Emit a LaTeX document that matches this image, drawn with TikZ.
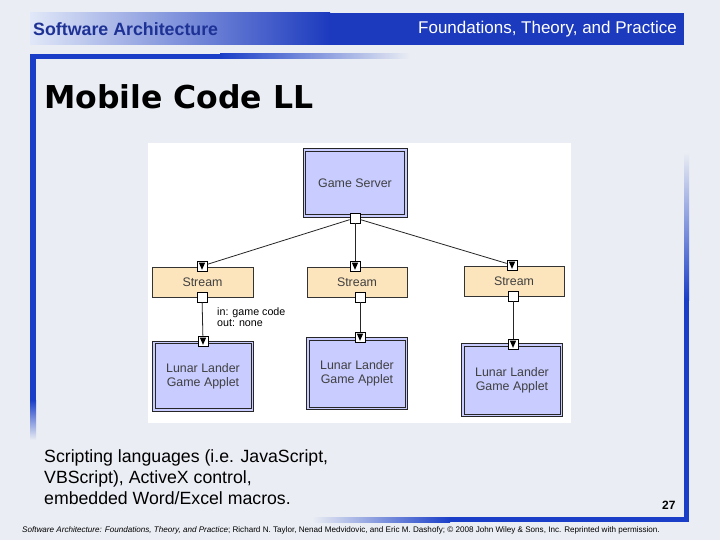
\documentclass[tikz,border=0pt]{standalone}
\usepackage{fontspec}
\setmainfont{Liberation Sans}
\newfontfamily\titlefont{DejaVu Sans}
\usepackage{tikz}
\usepackage{xcolor}
\usetikzlibrary{positioning, calc}

\definecolor{bgcol}{RGB}{234,237,243}
\definecolor{bardark}{RGB}{28,58,190}
\definecolor{barlight}{RGB}{225,232,248}
\definecolor{frameblue}{RGB}{26,62,200}
\definecolor{headblue}{RGB}{30,50,150}
\definecolor{compfill}{RGB}{200,204,255}
\definecolor{connfill}{RGB}{252,228,188}

\tikzset{
  comp/.style={rectangle, draw=black!85, line width=0.8pt, fill=compfill,
    align=center, font=\fontsize{12.4}{14}\selectfont, text=black!75,
    path picture={
      \draw[black!85, line width=0.8pt]
        ([xshift=2.6pt,yshift=-2.6pt]path picture bounding box.north west) rectangle
        ([xshift=-2.6pt,yshift=2.6pt]path picture bounding box.south east);}},
  conn/.style={rectangle, draw=black!80, line width=0.7pt, fill=connfill,
    minimum height=30pt, font=\fontsize{12.4}{14}\selectfont, text=black!75},
  port/.style={rectangle, draw=black, line width=0.7pt, fill=white,
    minimum size=10pt, inner sep=0pt},
  inport/.style={port, path picture={
    \fill[black] ([xshift=1.8pt,yshift=-1.6pt]path picture bounding box.north west)
      -- ([xshift=-1.8pt,yshift=-1.6pt]path picture bounding box.north east)
      -- ([yshift=1.2pt]path picture bounding box.south) -- cycle;}},
  link/.style={draw=black!85, line width=0.8pt}
}

\begin{document}
\begin{tikzpicture}[x=1pt, y=-1pt]

\useasboundingbox (0,0) rectangle (720,540);
\fill[bgcol] (0,0) rectangle (720,540);

% header bar
\shade[left color=barlight, right color=bardark] (30,13) rectangle (330,45);
\fill[bardark] (329,13) rectangle (684,45);
\node[anchor=west, inner sep=0pt, font=\bfseries\fontsize{17.8}{20}\selectfont, text=headblue] (hleft) at (33,29) {Software Architecture};
\node[anchor=east, inner sep=0pt, font=\fontsize{17}{20}\selectfont, text=white] (hright) at (677,29) {Foundations, Theory, and Practice};

% frame
\fill[frameblue] (30,54) rectangle (220,59);
\shade[left color=frameblue, right color=bgcol] (220,54) rectangle (410,59);
\fill[frameblue] (30,54) rectangle (36,400);
\shade[top color=frameblue, bottom color=bgcol] (30,400) rectangle (36,440);
\shade[top color=bgcol, bottom color=frameblue] (684,152) rectangle (689,300);
\fill[frameblue] (684,300) rectangle (689,522);
\shade[left color=bgcol, right color=frameblue] (312,517) rectangle (450,522);
\fill[frameblue] (450,517) rectangle (689,522);

\node[anchor=west, inner sep=0pt, font=\titlefont\bfseries\fontsize{31.5}{36}\selectfont] (title) at (44,97) {Mobile Code LL};

% diagram
\fill[white] (148,143) rectangle (571,423);

\node[comp, minimum width=104pt, minimum height=69pt] (server) at (355,183) {Game Server};

\node[conn, minimum width=101pt] (s1) at (202.5,282) {Stream};
\node[conn, minimum width=100pt] (s2) at (357,282) {Stream};
\node[conn, minimum width=100pt] (s3) at (514,281) {Stream};

\node[comp, minimum width=101pt, minimum height=70pt] (a1) at (203,376) {Lunar Lander\\Game Applet};
\node[comp, minimum width=101pt, minimum height=72pt] (a2) at (357,373.5) {Lunar Lander\\Game Applet};
\node[comp, minimum width=101pt, minimum height=73pt] (a3) at (512,380) {Lunar Lander\\Game Applet};

\node[port] (sp) at (355,218) {};
\node[inport] (s1in) at (202,266) {};
\node[inport] (s2in) at (355,266) {};
\node[inport] (s3in) at (512,265) {};
\node[port] (s1out) at (202,297) {};
\node[port] (s2out) at (360,297) {};
\node[port] (s3out) at (513,296) {};
\node[inport] (a1in) at (203,341) {};
\node[inport] (a2in) at (360,337) {};
\node[inport] (a3in) at (513,344) {};

\draw[link] (sp) -- (s1in);
\draw[link] (sp) -- (s2in);
\draw[link] (sp) -- (s3in);
\draw[link] (s1out) -- (a1in);
\draw[link] (s2out) -- (a2in);
\draw[link] (s3out) -- (a3in);

\node[anchor=north west, align=left, inner sep=0pt, font=\fontsize{10.7}{11}\selectfont] (lbl) at (217,308) {in: game code\\out: none};

% text
\node[anchor=north west, align=left, inner sep=0pt, font=\fontsize{17.7}{21}\selectfont] (body) at (44,449)
{Scripting languages (i.e. JavaScript,\\VBScript), ActiveX control,\\embedded Word/Excel macros.};
\node[anchor=east, font=\bfseries\fontsize{12}{14}\selectfont] (page) at (679,505) {27};
\node[anchor=west, inner sep=0pt, font=\fontsize{8.1}{9}\selectfont] (foot) at (22,530)
{\textit{Software Architecture: Foundations, Theory, and Practice}; Richard N. Taylor, Nenad Medvidovic, and Eric M. Dashofy; \textcopyright\ 2008 John Wiley \& Sons, Inc. Reprinted with permission.};

\end{tikzpicture}
\end{document}
